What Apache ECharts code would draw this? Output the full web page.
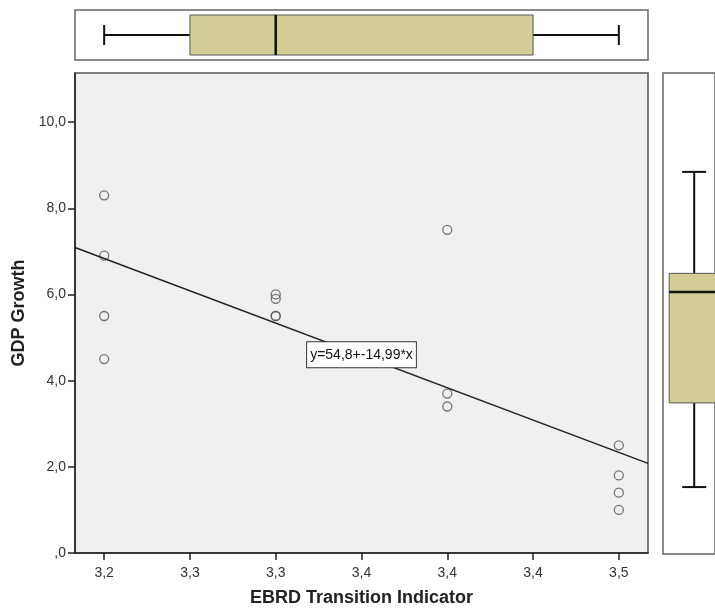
<!DOCTYPE html>
<html>
<head>
<meta charset="utf-8">
<script src="https://cdn.jsdelivr.net/npm/echarts@6/dist/echarts.min.js"></script>
<style>
  html, body { margin: 0; padding: 0; background: #fff; }
  #chart { width: 715px; height: 612px; }
</style>
</head>
<body>
<div id="chart"></div>
<script>
// scatter points (EBRD indicator vs GDP growth)
const ebrd = [3.2, 3.2, 3.2, 3.2, 3.3, 3.3, 3.3, 3.3, 3.4, 3.4, 3.4, 3.5, 3.5, 3.5, 3.5];
const gdp  = [8.3, 6.9, 5.5, 4.5, 6.0, 5.9, 5.5, 5.5, 7.5, 3.7, 3.4, 2.5, 1.8, 1.4, 1.0];

// fit line, read at the plot edges
const fitX = [3.183, 3.517];
const fitY = [7.09, 2.08];
const fitLabel = 'y=54,8+-14,99*x';

// marginal boxplots: low, q1, median, q3, high
const ebrdBox = [3.2, 3.25, 3.3, 3.45, 3.5];
const gdpBox  = [1.55, 3.5, 6.07, 6.5, 8.85];

const xTicks = [3.2, 3.25, 3.3, 3.35, 3.4, 3.45, 3.5];
const xTickLabels = ['3,2', '3,3', '3,3', '3,4', '3,4', '3,4', '3,5'];
const yTicks = [0, 2, 4, 6, 8, 10];
const yTickLabels = [',0', '2,0', '4,0', '6,0', '8,0', '10,0'];

const X_MIN = 3.183, X_MAX = 3.517, Y_MIN = 0, Y_MAX = 11.14;
const BOX_FILL = '#d3ce98';

function pick(ticks, labels) {
  return function (v) {
    const i = ticks.findIndex(t => Math.abs(t - v) < 1e-6);
    return i < 0 ? '' : labels[i];
  };
}

// draws one box with short whisker caps
function boxRender(horizontal, boxHalf, capHalf) {
  return function (params, api) {
    const v = [1, 2, 3, 4, 5].map(i => api.value(i));
    const p = v.map(val => horizontal ? api.coord([val, 0]) : api.coord([0, val]));
    const line = (x1, y1, x2, y2, w) => ({
      type: 'line', shape: { x1, y1, x2, y2 },
      style: { stroke: '#111', lineWidth: w }
    });
    let kids;
    if (horizontal) {
      const c = p[0][1];
      kids = [
        line(p[0][0], c, p[1][0], c, 2),
        line(p[3][0], c, p[4][0], c, 2),
        line(p[0][0], c - capHalf, p[0][0], c + capHalf, 2),
        line(p[4][0], c - capHalf, p[4][0], c + capHalf, 2),
        { type: 'rect', shape: { x: p[1][0], y: c - boxHalf, width: p[3][0] - p[1][0], height: boxHalf * 2 },
          style: { fill: BOX_FILL, stroke: '#555', lineWidth: 1 } },
        line(p[2][0], c - boxHalf, p[2][0], c + boxHalf, 2.5)
      ];
    } else {
      const c = p[0][0];
      kids = [
        line(c, p[0][1], c, p[1][1], 2),
        line(c, p[3][1], c, p[4][1], 2),
        line(c - capHalf, p[0][1], c + capHalf, p[0][1], 2),
        line(c - capHalf, p[4][1], c + capHalf, p[4][1], 2),
        { type: 'rect', shape: { x: c - boxHalf, y: p[3][1], width: boxHalf * 2, height: p[1][1] - p[3][1] },
          style: { fill: BOX_FILL, stroke: '#555', lineWidth: 1 } },
        line(c - boxHalf, p[2][1], c + boxHalf, p[2][1], 2.5)
      ];
    }
    return { type: 'group', children: kids };
  };
}

const chart = echarts.init(document.getElementById('chart'));
const labelFont = { color: '#333', fontSize: 14, fontFamily: 'Liberation Sans, Arial, sans-serif' };

chart.setOption({
  animation: false,
  grid: [
    { left: 75, top: 73, width: 573, height: 481, show: true,
      backgroundColor: '#f0f0f0', borderColor: '#555', borderWidth: 1.5 },
    { left: 75, top: 10, width: 573, height: 50, show: true,
      backgroundColor: '#fff', borderColor: '#666', borderWidth: 1.5 },
    // right panel is cut by the window edge
    { left: 663, width: 60, top: 73, height: 481, show: true,
      backgroundColor: '#fff', borderColor: '#666', borderWidth: 1.5 }
  ],
  xAxis: [
    {
      gridIndex: 0, type: 'value', min: X_MIN, max: X_MAX,
      name: 'EBRD Transition Indicator', nameLocation: 'middle', nameGap: 36,
      nameTextStyle: { color: '#222', fontSize: 18, fontWeight: 'bold', fontFamily: 'Liberation Sans, Arial, sans-serif' },
      axisLine: { show: true, lineStyle: { color: '#222', width: 1.5 } },
      axisTick: { show: true, length: 7, customValues: xTicks, lineStyle: { color: '#222', width: 1.5 } },
      axisLabel: Object.assign({ margin: 13, customValues: xTicks, formatter: pick(xTicks, xTickLabels) }, labelFont),
      splitLine: { show: false }
    },
    { gridIndex: 1, type: 'value', min: X_MIN, max: X_MAX, show: false },
    { gridIndex: 2, type: 'value', min: -0.6, max: 0.4, show: false }
  ],
  yAxis: [
    {
      gridIndex: 0, type: 'value', min: Y_MIN, max: Y_MAX,
      name: 'GDP Growth', nameLocation: 'middle', nameGap: 46,
      nameTextStyle: { color: '#222', fontSize: 18, fontWeight: 'bold', fontFamily: 'Liberation Sans, Arial, sans-serif' },
      axisLine: { show: true, lineStyle: { color: '#222', width: 1.5 } },
      axisTick: { show: true, length: 7, customValues: yTicks, lineStyle: { color: '#222', width: 1.5 } },
      axisLabel: Object.assign({ margin: 9, customValues: yTicks, formatter: pick(yTicks, yTickLabels) }, labelFont),
      splitLine: { show: false }
    },
    { gridIndex: 1, type: 'category', data: [''], show: false },
    { gridIndex: 2, type: 'value', min: Y_MIN, max: Y_MAX, show: false }
  ],
  series: [
    {
      type: 'scatter', xAxisIndex: 0, yAxisIndex: 0,
      data: ebrd.map((x, i) => [x, gdp[i]]),
      symbol: 'circle', symbolSize: 9,
      itemStyle: { color: 'rgba(0,0,0,0)', borderColor: '#555', borderWidth: 1.3 }
    },
    {
      type: 'line', xAxisIndex: 0, yAxisIndex: 0,
      data: fitX.map((x, i) => [x, fitY[i]]),
      symbol: 'none', lineStyle: { color: '#222', width: 1.5 },
      markPoint: {
        symbol: 'rect', symbolSize: 0,
        data: [{ coord: [3.35, 4.6] }],
        label: {
          show: true, position: 'inside', formatter: fitLabel,
          backgroundColor: '#fff', borderColor: '#333', borderWidth: 1,
          padding: [6, 3, 5, 3], color: '#111', fontSize: 14,
          fontFamily: 'Liberation Sans, Arial, sans-serif'
        }
      }
    },
    {
      type: 'custom', xAxisIndex: 1, yAxisIndex: 1,
      data: [[0].concat(ebrdBox)],
      encode: { y: 0, x: [1, 2, 3, 4, 5] },
      renderItem: boxRender(true, 20, 10)
    },
    {
      type: 'custom', xAxisIndex: 2, yAxisIndex: 2,
      data: [[0].concat(gdpBox)],
      encode: { x: 0, y: [1, 2, 3, 4, 5] },
      renderItem: boxRender(false, 25, 12)
    }
  ]
});
</script>
</body>
</html>
